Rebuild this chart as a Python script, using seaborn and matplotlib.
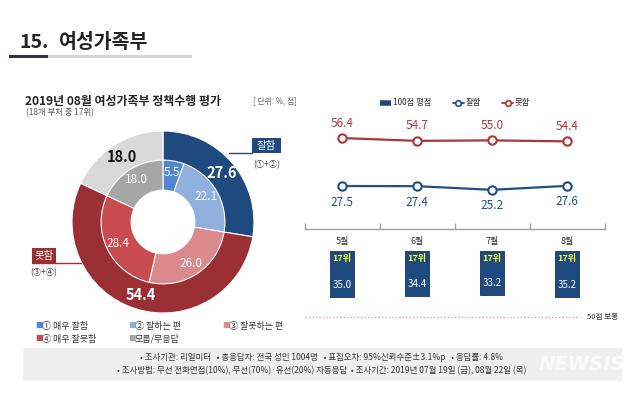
import numpy as np
import pandas as pd
import matplotlib
matplotlib.use('Agg')
import matplotlib.pyplot as plt
import seaborn as sns
from matplotlib.patches import Rectangle
from matplotlib.lines import Line2D

sns.set_theme(style='white')
plt.rcParams['font.family'] = ['Noto Sans CJK KR', 'DejaVu Sans']

# ---------------- data ----------------
outer_labels = ['잘함', '못함', '모름/무응답']
outer_values = [27.6, 54.4, 18.0]
inner_labels = ['① 매우 잘함', '② 잘하는 편', '③ 잘못하는 편', '④ 매우 잘못함', '모름/무응답']
inner_values = [5.5, 22.1, 26.0, 28.4, 18.0]
months = ['5월', '6월', '7월', '8월']
good = [27.5, 27.4, 25.2, 27.6]
bad = [56.4, 54.7, 55.0, 54.4]
score = [35.0, 34.4, 33.2, 35.2]
rank = ['17위', '17위', '17위', '17위']

# ---------------- colours ----------------
navy = '#1f4a80'
dred = '#9b3034'
lgrey = '#d9d9d9'
outer_colors = [navy, dred, lgrey]
inner_colors = ['#4f86cf', '#8fb0dc', '#da8a8c', '#c84b4f', '#a6a6a6']
line_blue = '#1f4e8a'
line_red = '#a8373b'

W, H = 640, 393
fig = plt.figure(figsize=(6.4, 3.93), dpi=100)
fig.patch.set_facecolor('white')

def fx(x):
    return x / W

def fy(y):
    return 1 - y / H

def axrect(x0, y0, x1, y1):
    return [x0 / W, 1 - y1 / H, (x1 - x0) / W, (y1 - y0) / H]

def frect(x0, y0, x1, y1, **kw):
    fig.add_artist(Rectangle((fx(x0), fy(y1)), (x1 - x0) / W, (y1 - y0) / H,
                             transform=fig.transFigure, **kw))

# ---------------- header ----------------
fig.text(fx(19), fy(42), '15.', fontsize=14, fontweight='bold', color='#222222', va='center')
fig.text(fx(59), fy(42), '여성가족부', fontsize=14, fontweight='bold', color='#222222', va='center')
frect(9, 55, 48, 58, color='#2b3553', lw=0)
frect(48, 55, 192, 58, color='#d4d4d4', lw=0)

fig.text(fx(25), fy(101), '2019년 08월 여성가족부 정책수행 평가', fontsize=8.6,
         fontweight='bold', color='#222222', va='center')
fig.text(fx(26), fy(113), '(18개 부처 중 17위)', fontsize=6, color='#555555', va='center')
fig.text(fx(253), fy(101), '[ 단위: %, 점]', fontsize=5.7, color='#666666', va='center')

# ---------------- donut ----------------
dax = fig.add_axes(axrect(72, 131, 254, 313))
wp = dict(width=0.33, edgecolor='white', linewidth=0.8)
dax.pie(outer_values, radius=1.0, colors=outer_colors, startangle=90,
        counterclock=False, wedgeprops=wp)
dax.pie(inner_values, radius=0.68, colors=inner_colors, startangle=90,
        counterclock=False, wedgeprops=wp)
dax.set_xlim(-1, 1)
dax.set_ylim(-1, 1)
dax.axis('off')

def ring_labels(values, r, colors, size, weight):
    total = sum(values)
    cum = 0
    for v, c in zip(values, colors):
        th = np.deg2rad(360 * (cum + v / 2) / total)
        dax.text(r * np.sin(th), r * np.cos(th), f'{v:.1f}', ha='center', va='center',
                 fontsize=size, color=c, fontweight=weight)
        cum += v

ring_labels(outer_values, 0.84, ['white', 'white', '#111111'], 10.5, 'bold')
ring_labels(inner_values, 0.55, ['white'] * 5, 8.5, 'medium')

# call-outs
frect(252, 138, 281, 153, color=navy, lw=0)
fig.add_artist(Line2D([fx(229), fx(252)], [fy(153), fy(153)], color=navy, lw=1,
                      transform=fig.transFigure))
fig.text(fx(266.5), fy(145.5), '잘함', fontsize=7.5, color='white', ha='center', va='center')
fig.text(fx(267), fy(165), '(①+②)', fontsize=6, color='#444444', ha='center', va='center')

frect(32, 248, 56, 263, color=dred, lw=0)
fig.add_artist(Line2D([fx(32), fx(81)], [fy(263), fy(263)], color=dred, lw=1,
                      transform=fig.transFigure))
fig.text(fx(44), fy(255.5), '못함', fontsize=7.5, color='white', ha='center', va='center')
fig.text(fx(44), fy(273), '(③+④)', fontsize=6, color='#444444', ha='center', va='center')

# left legend
leg_pos = [(35, 326), (128, 326), (222, 326), (35, 339), (128, 339)]
for (x, y), lab, c in zip(leg_pos, inner_labels, inner_colors):
    fig.text(fx(x), fy(y), '■', fontsize=5.5, color=c, va='center')
    fig.text(fx(x + 7), fy(y), lab, fontsize=6.5, color='#333333', va='center')

# ---------------- line chart ----------------
df = pd.DataFrame({'pos': np.arange(len(months)), 'good': good, 'bad': bad})
lax = fig.add_axes(axrect(304.5, 110, 604.5, 229))
for col, c in (('bad', line_red), ('good', line_blue)):
    sns.lineplot(data=df, x='pos', y=col, ax=lax, color=c, marker='o', markersize=6,
                 markerfacecolor='white', markeredgecolor=c, markeredgewidth=1.5,
                 linewidth=1.6)
for i, (g, b) in enumerate(zip(good, bad)):
    lax.annotate(f'{b:.1f}', (i, b), xytext=(0, 15), textcoords='offset pixels',
                 ha='center', va='center', fontsize=8.5, color=line_red, annotation_clip=False)
    lax.annotate(f'{g:.1f}', (i, g), xytext=(0, -16), textcoords='offset pixels',
                 ha='center', va='center', fontsize=8.5, color=line_blue, annotation_clip=False)
lax.set_xlim(-0.5, 3.5)
lax.set_ylim(1.6, 73.3)
lax.set_yticks([])
lax.set_xticks(np.arange(len(months)), labels=months)
lax.set_xticks([-0.5, 0.5, 1.5, 2.5, 3.5], minor=True)
lax.tick_params(axis='x', which='major', length=0, pad=6, labelsize=6.5, labelcolor='#333333')
lax.tick_params(axis='x', which='minor', direction='in', length=4, color='#a0a0a0',
                width=1, bottom=True)
lax.set_xlabel('')
lax.set_ylabel('')
for s in ('top', 'left', 'right'):
    lax.spines[s].set_visible(False)
lax.spines['bottom'].set_color('#a0a0a0')
lax.spines['bottom'].set_linewidth(1)
lax.patch.set_alpha(0)

# ---------------- bars ----------------
bax = fig.add_axes(axrect(304.5, 251, 604.5, 317))
sns.barplot(x=months, y=score, ax=bax, color=navy, width=0.33, saturation=1,
            edgecolor='#16355c', linewidth=0.6)
bax.set_xlim(-0.5, 3.5)
bax.set_ylim(50, 0)
bax.axhline(50, xmin=0, xmax=0.918, color='#e79aae', ls=(0, (1, 1.5)), lw=1, clip_on=False)
for i, (v, r) in enumerate(zip(score, rank)):
    bax.annotate(r, (i, 0), xytext=(0, -7), textcoords='offset pixels', ha='center',
                 va='center', fontsize=6.5, color='#ffff33', fontweight='bold')
    bax.annotate(f'{v:.1f}', (i, v), xytext=(0, 12), textcoords='offset pixels',
                 ha='center', va='center', fontsize=7, color='white')
bax.axis('off')
fig.text(fx(587), fy(317), '50점 보통', fontsize=5.5, color='#333333', va='center')

# right legend
handles = [Line2D([], [], color=navy, lw=4, solid_capstyle='butt'),
           Line2D([], [], color=line_blue, lw=1.3, marker='o', markersize=4,
                  markerfacecolor='white', markeredgewidth=1.2),
           Line2D([], [], color=line_red, lw=1.3, marker='o', markersize=4,
                  markerfacecolor='white', markeredgewidth=1.2)]
fig.legend(handles, ['100점 평점', '잘함', '못함'], loc='center left',
           bbox_to_anchor=(fx(376), fy(103)), ncol=3, frameon=False, fontsize=6,
           handlelength=1.3, handletextpad=0.2, columnspacing=2.6, borderpad=0)

# ---------------- footer ----------------
frect(23, 348, 622, 381, color='#efefef', lw=0)
fig.text(fx(322), fy(358), '• 조사기관: 리얼미터   • 총응답자: 전국 성인 1004명   • 표집오차: 95%신뢰수준±3.1%p   • 응답률: 4.8%',
         fontsize=6.1, color='#333333', ha='center', va='center')
fig.text(fx(322), fy(371), '• 조사방법: 무선 전화면접(10%), 무선(70%)·유선(20%) 자동응답  • 조사기간: 2019년 07월 19일 (금), 08월 22일 (목)',
         fontsize=6.1, color='#333333', ha='center', va='center')
fig.text(fx(582), fy(364), 'NEWSIS', fontsize=14, family='DejaVu Sans', fontweight='bold',
         style='italic', color='white', alpha=0.75, ha='center', va='center')

fig.savefig('out.png', dpi=100)
